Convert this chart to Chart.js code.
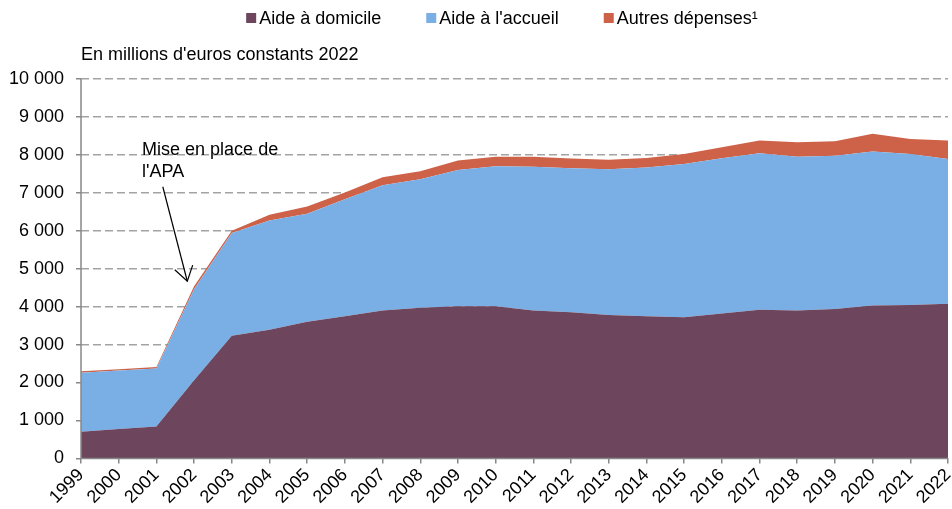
<!DOCTYPE html>
<html>
<head>
<meta charset="utf-8">
<script src="https://cdn.jsdelivr.net/npm/chart.js@4.4.1/dist/chart.umd.min.js"></script>
<style>
  html, body { margin: 0; padding: 0; background: #fff; }
  #wrap { width: 952px; height: 509px; position: relative; }
</style>
</head>
<body>
<div id="wrap"><canvas id="c" width="952" height="509"></canvas></div>
<script>
// ---- Data ----
const years = ['1999','2000','2001','2002','2003','2004','2005','2006','2007','2008','2009','2010','2011','2012','2013','2014','2015','2016','2017','2018','2019','2020','2021','2022'];
const aideDomicile = [705, 775, 840, 2060, 3230, 3390, 3600, 3750, 3900, 3970, 4010, 4010, 3900, 3850, 3780, 3745, 3720, 3820, 3920, 3900, 3940, 4030, 4045, 4075];
const aideAccueil  = [1555, 1545, 1530, 2400, 2710, 2880, 2850, 3080, 3300, 3390, 3590, 3690, 3790, 3800, 3840, 3925, 4040, 4090, 4120, 4050, 4040, 4060, 3975, 3815];
const autresDepenses = [36, 30, 40, 80, 60, 150, 190, 180, 210, 210, 250, 250, 260, 255, 250, 250, 260, 290, 340, 380, 380, 470, 400, 490];
const seriesNames = ['Aide à domicile', "Aide à l'accueil", 'Autres dépenses¹'];
const yTicks = [0, 1000, 2000, 3000, 4000, 5000, 6000, 7000, 8000, 9000, 10000];
const unitLabel = "En millions d'euros constants 2022";
const annotationLines = ['Mise en place de', "l'APA"];
// annotation anchor in data units (category index, value)
const annotationText = { x: 1.62, y: 8000 };
const annotationArrow = { fromX: 2.17, fromY: 7160, toX: 2.82, toY: 4670 };

const FONT = '"Liberation Sans", Arial, sans-serif';
const colors = ['#6D455C', '#7AAFE6', '#CD6249'];

function fmt(v) { return String(v).replace(/\B(?=(\d{3})+(?!\d))/g, ' '); }

const extrasPlugin = {
  id: 'extras',
  afterDraw(chart) {
    const ctx = chart.ctx;
    const area = chart.chartArea;
    const xs = chart.scales.x, ys = chart.scales.y;
    ctx.save();
    // Axis lines (solid)
    ctx.strokeStyle = '#888';
    ctx.lineWidth = 1.5;
    ctx.beginPath();
    ctx.moveTo(area.left, area.top); ctx.lineTo(area.left, area.bottom); ctx.lineTo(area.right, area.bottom);
    ctx.stroke();
    // Legend
    ctx.font = '18px ' + FONT;
    ctx.textBaseline = 'middle';
    ctx.textAlign = 'left';
    const box = 10, gapBox = 3, gapItem = 45;
    const widths = seriesNames.map(t => box + gapBox + ctx.measureText(t).width);
    const total = widths.reduce((a, b) => a + b, 0) + gapItem * (widths.length - 1);
    let x = 502 - total / 2;
    const ly = 18;
    seriesNames.forEach((t, i) => {
      ctx.fillStyle = colors[i];
      ctx.fillRect(x, ly - 5, box, box);
      ctx.fillStyle = '#000';
      ctx.fillText(t, x + box + gapBox, ly + 1);
      x += widths[i] + gapItem;
    });
    // Unit label
    ctx.fillText(unitLabel, area.left, 55);
    // Annotation text
    ctx.textBaseline = 'alphabetic';
    const tx = xs.getPixelForValue(annotationText.x);
    const ty = ys.getPixelForValue(annotationText.y);
    annotationLines.forEach((l, i) => ctx.fillText(l, tx, ty + i * 22));
    // Arrow
    const x1 = xs.getPixelForValue(annotationArrow.fromX), y1 = ys.getPixelForValue(annotationArrow.fromY);
    const x2 = xs.getPixelForValue(annotationArrow.toX), y2 = ys.getPixelForValue(annotationArrow.toY);
    ctx.strokeStyle = '#000';
    ctx.lineWidth = 1.2;
    ctx.beginPath(); ctx.moveTo(x1, y1); ctx.lineTo(x2, y2); ctx.stroke();
    const ang = Math.atan2(y1 - y2, x1 - x2);
    const hl = 17, spread = 33 * Math.PI / 180;
    ctx.beginPath();
    ctx.moveTo(x2 + hl * Math.cos(ang - spread), y2 + hl * Math.sin(ang - spread));
    ctx.lineTo(x2, y2);
    ctx.lineTo(x2 + hl * Math.cos(ang + spread), y2 + hl * Math.sin(ang + spread));
    ctx.stroke();
    ctx.restore();
  }
};

Chart.defaults.font.family = FONT;
Chart.defaults.font.size = 18;
Chart.defaults.color = '#000';

new Chart(document.getElementById('c'), {
  type: 'line',
  data: {
    labels: years,
    datasets: [
      { label: seriesNames[0], data: aideDomicile, backgroundColor: colors[0], borderColor: colors[0], fill: 'origin' },
      { label: seriesNames[1], data: aideAccueil, backgroundColor: colors[1], borderColor: colors[1], fill: '-1' },
      { label: seriesNames[2], data: autresDepenses, backgroundColor: colors[2], borderColor: colors[2], fill: '-1' }
    ]
  },
  options: {
    responsive: false,
    animation: false,
    layout: { padding: { top: 79, left: 9, right: 4, bottom: 0 } },
    elements: { point: { radius: 0 }, line: { borderWidth: 0, tension: 0 } },
    plugins: { legend: { display: false }, tooltip: { enabled: false } },
    scales: {
      x: {
        offset: false,
        grid: { display: true, drawOnChartArea: false, drawTicks: true, tickLength: 5, color: '#888', lineWidth: 1.5 },
        border: { display: false },
        ticks: { autoSkip: false, maxRotation: 45, minRotation: 45, padding: 1, font: { size: 18 } },
        afterFit(scale) { scale.paddingRight = 0; scale.paddingLeft = 0; }
      },
      y: {
        stacked: true,
        min: 0, max: 10000,
        afterBuildTicks(scale) { scale.ticks = yTicks.map(v => ({ value: v })); },
        afterFit(scale) { scale.width = 72; },
        grid: {
          color: (c) => c.tick && c.tick.value === 0 ? 'rgba(0,0,0,0)' : '#A3A3A3',
          lineWidth: 1.5,
          drawTicks: true, tickLength: 5,
          tickColor: '#888', tickBorderDash: [0, 0], tickWidth: 1.5
        },
        border: { display: false, dash: [8, 4] },
        ticks: { padding: 12, callback: (v) => fmt(v), font: { size: 18 } }
      }
    }
  },
  plugins: [extrasPlugin]
});
</script>
</body>
</html>
